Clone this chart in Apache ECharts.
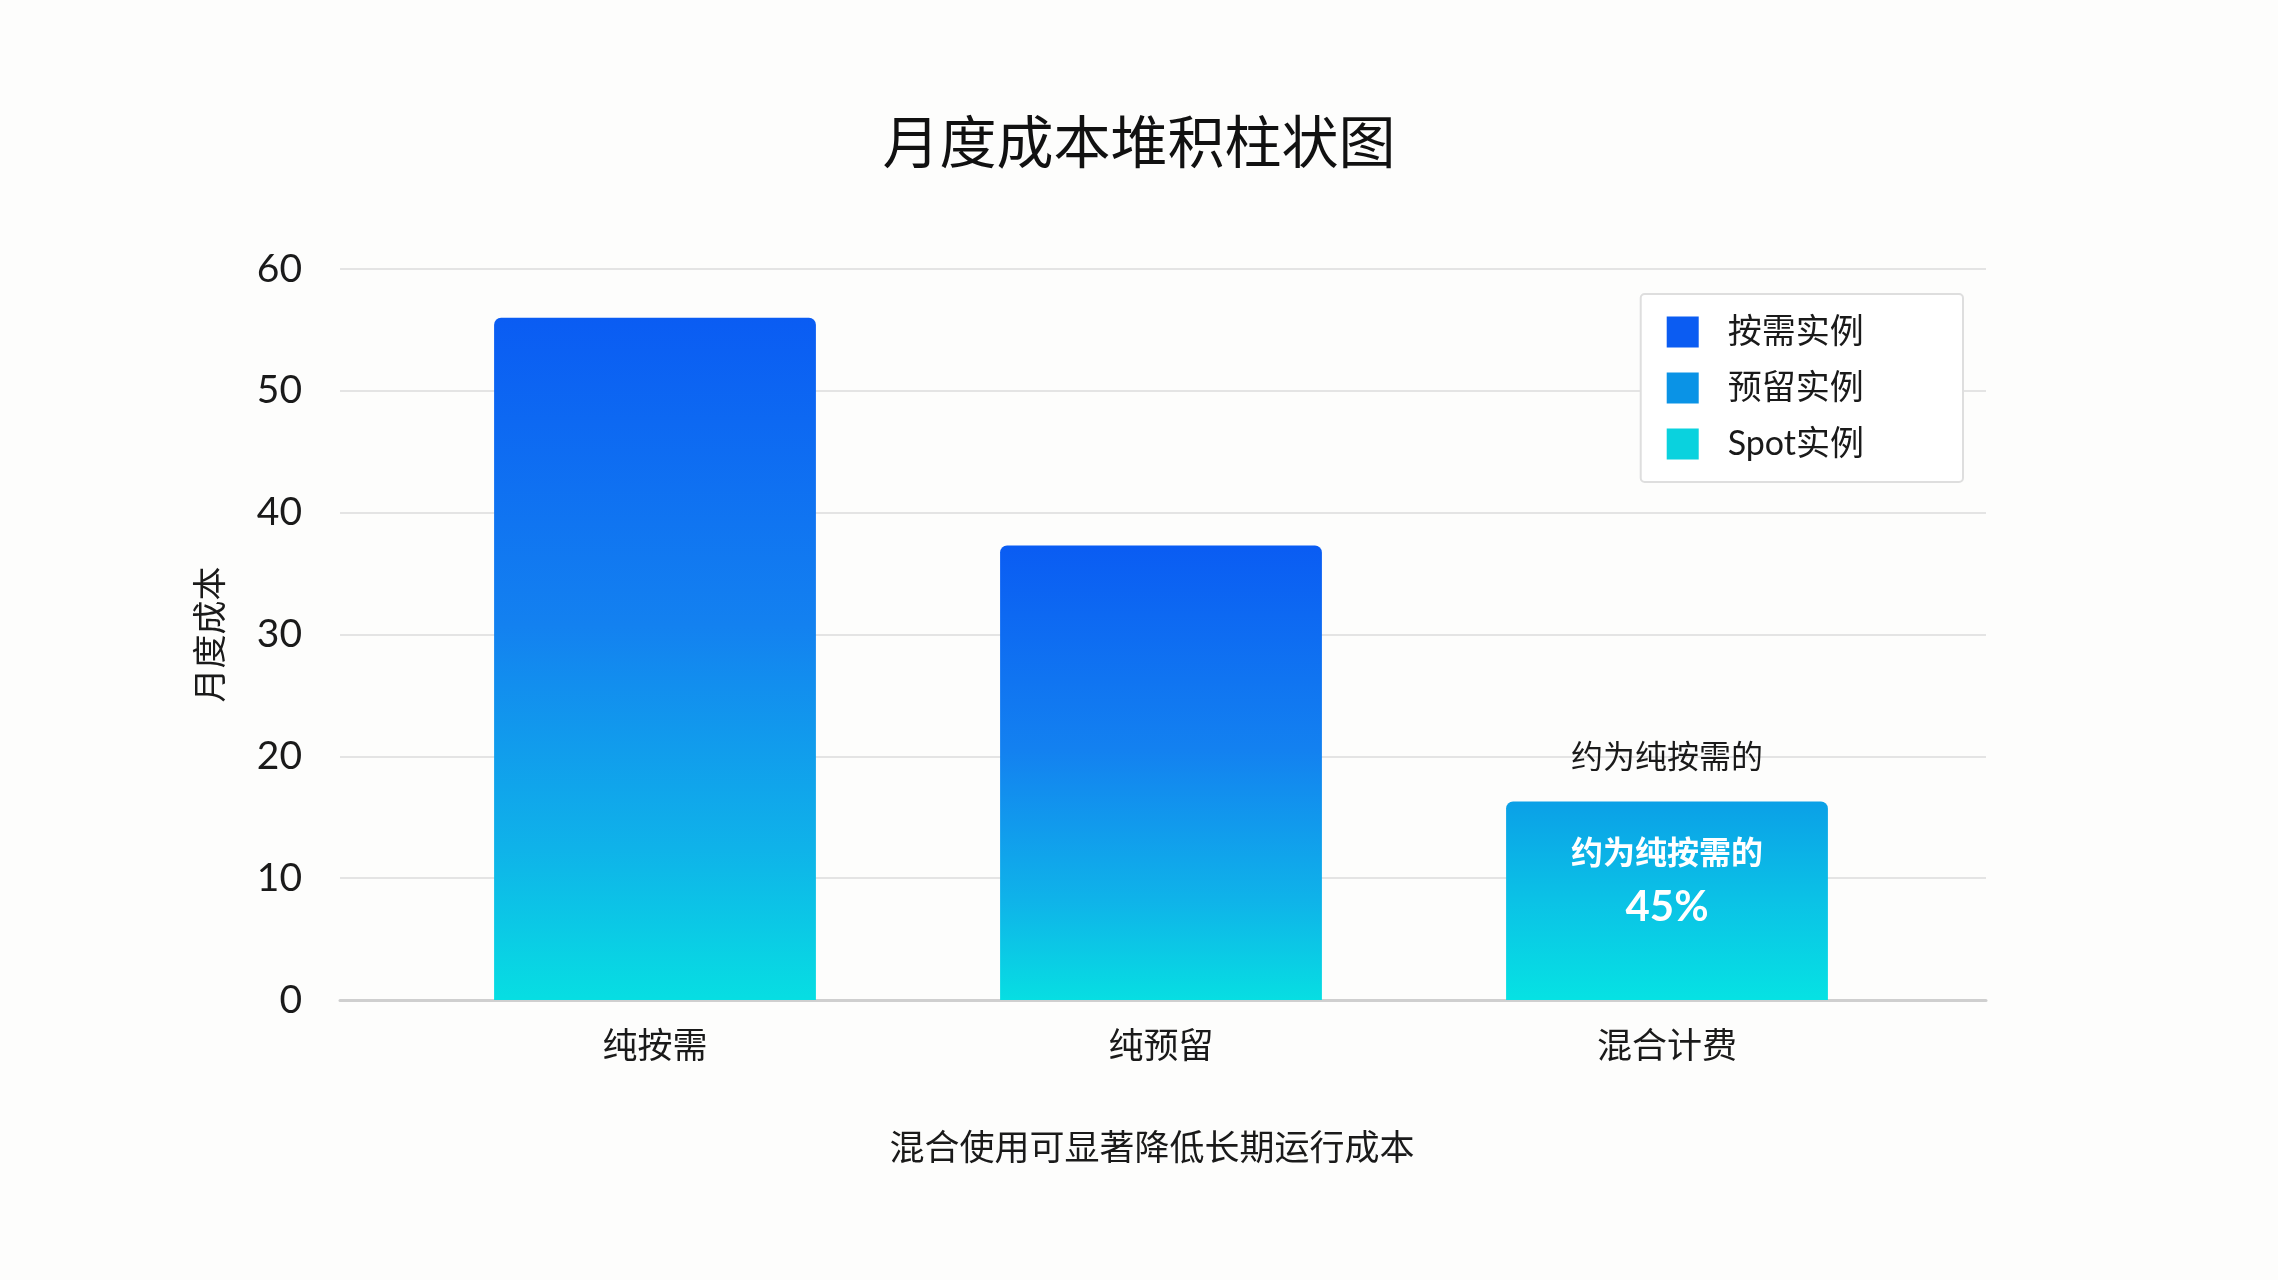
<!DOCTYPE html>
<html>
<head>
<meta charset="utf-8">
<script src="https://cdn.jsdelivr.net/npm/echarts@6/dist/echarts.min.js"></script>
<style>
html,body{margin:0;padding:0;background:#fdfdfc;}
#c{width:2278px;height:1280px;}
</style>
</head>
<body>
<div id="c"></div>
<script>
// ---- data ----
const categories = ['纯按需', '纯预留', '混合计费'];
const seriesNames = ['按需实例', '预留实例', 'Spot实例'];
const onDemand = [56, 0, 0];
const reserved = [0, 37.3, 0];
const spot = [0, 0, 16.3];
const yTicks = { min: 0, max: 60, interval: 10 };
const chartTitle = '月度成本堆积柱状图';
const yAxisName = '月度成本';
const xAxisName = '混合使用可显著降低长期运行成本';
const annotationAbove = '约为纯按需的';
const annotationInside = ['约为纯按需的', '45%'];

// ---- styles ----
const FONT = 'Lato, "Noto Sans CJK SC", sans-serif';
const legendColors = ['#0B5CF2', '#0A93E6', '#0AD2DE'];
function grad(stops) {
  return new echarts.graphic.LinearGradient(0, 0, 0, 1,
    stops.map(s => ({ offset: s[0], color: s[1] })));
}
const tallGrad = () => grad([[0, '#0A5CF3'], [0.45, '#1381F0'], [0.78, '#0FB3E9'], [1, '#07DEE2']]);
const shortGrad = () => grad([[0, '#0BA0E7'], [0.5, '#0BC2E6'], [1, '#06E2E3']]);

const totals = categories.map((_, i) => onDemand[i] + reserved[i] + spot[i]);

const chart = echarts.init(document.getElementById('c'));
const barCommon = {
  type: 'bar', stack: 'total', xAxisIndex: 1, yAxisIndex: 1,
  barWidth: '63.6%'
};

chart.setOption({
  animation: false,
  backgroundColor: '#fdfdfc',
  textStyle: { fontFamily: FONT },
  title: {
    text: chartTitle, left: 'center', top: 111,
    textStyle: { fontSize: 57, fontWeight: 'normal', color: '#111', fontFamily: FONT }
  },
  legend: {
    orient: 'vertical', right: 315, top: 294,
    padding: [21, 99, 21, 26],
    itemWidth: 32, itemHeight: 31, itemGap: 22,
    icon: 'rect',
    backgroundColor: '#ffffff',
    borderColor: '#dedede', borderWidth: 2, borderRadius: 4,
    textStyle: { fontSize: 34, color: '#1a1a1a', fontFamily: FONT, padding: [0, 0, 0, 24] },
    data: seriesNames.map((n, i) => ({ name: n, itemStyle: { color: legendColors[i] } }))
  },
  grid: [
    { left: 340, right: 292, top: 269, bottom: 280 },
    { left: 402, right: 358, top: 269, bottom: 280 }
  ],
  xAxis: [
    {
      gridIndex: 0, type: 'category', data: categories,
      axisLabel: { show: false }, axisTick: { show: false },
      axisLine: { show: true, lineStyle: { color: '#cfcfcf', width: 3 } }
    },
    {
      gridIndex: 1, type: 'category', data: categories,
      axisLine: { show: false }, axisTick: { show: false },
      axisLabel: { fontSize: 35, color: '#1a1a1a', margin: 29, fontFamily: FONT },
      name: xAxisName, nameLocation: 'middle', nameGap: 131,
      nameTextStyle: { fontSize: 35, color: '#1a1a1a', fontFamily: FONT, padding: [0, 18, 0, 0] }
    }
  ],
  yAxis: [
    {
      gridIndex: 0, type: 'value', min: yTicks.min, max: yTicks.max, interval: yTicks.interval,
      axisLine: { show: false }, axisTick: { show: false },
      axisLabel: { fontSize: 39, color: '#1a1a1a', margin: 38, fontFamily: FONT },
      splitLine: { lineStyle: { color: '#e4e4e4', width: 2 } },
      name: yAxisName, nameLocation: 'middle', nameGap: 112, nameRotate: 90,
      nameTextStyle: { fontSize: 34, color: '#1a1a1a', fontFamily: FONT }
    },
    {
      gridIndex: 1, type: 'value', min: yTicks.min, max: yTicks.max, interval: yTicks.interval,
      show: false, splitLine: { show: false }
    }
  ],
  series: [
    Object.assign({}, barCommon, {
      name: seriesNames[0], data: onDemand,
      itemStyle: { color: tallGrad(), borderRadius: [7, 7, 0, 0] }
    }),
    Object.assign({}, barCommon, {
      name: seriesNames[1], data: reserved,
      itemStyle: { color: tallGrad(), borderRadius: [7, 7, 0, 0] }
    }),
    Object.assign({}, barCommon, {
      name: seriesNames[2],
      itemStyle: { color: shortGrad(), borderRadius: [7, 7, 0, 0] },
      data: spot.map((v, i) => i === 2 ? {
        value: v,
        label: {
          show: true, position: 'inside', offset: [0, -18],
          formatter: '{a|' + annotationInside[0] + '}\n{b|' + annotationInside[1] + '}',
          rich: {
            a: { fontSize: 32, fontWeight: 'bold', color: '#ffffff', lineHeight: 50, fontFamily: FONT },
            b: { fontSize: 42, fontWeight: 'bold', color: '#ffffff', lineHeight: 58, fontFamily: FONT }
          }
        }
      } : v),
      markPoint: {
        symbol: 'rect', symbolSize: 1,
        itemStyle: { color: 'rgba(0,0,0,0)' },
        label: {
          show: true, position: 'inside', offset: [0, -44],
          formatter: annotationAbove,
          fontSize: 32, color: '#1a1a1a', fontFamily: FONT
        },
        data: [{ coord: [categories[2], totals[2]] }]
      }
    })
  ]
});
</script>
</body>
</html>
